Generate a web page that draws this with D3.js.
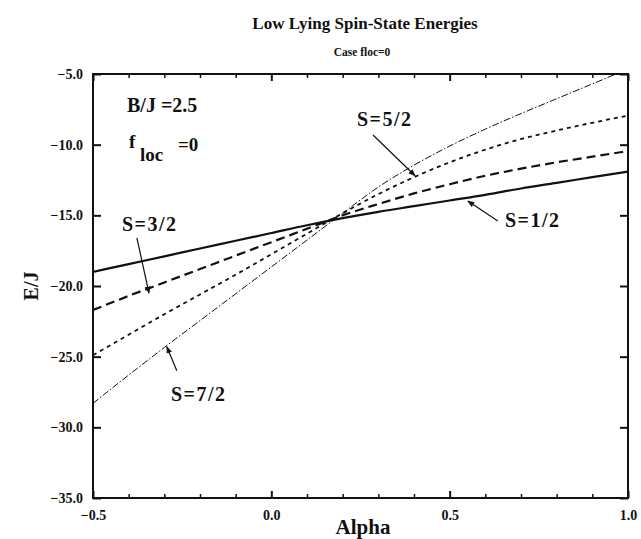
<!DOCTYPE html>
<html><head><meta charset="utf-8">
<script src="https://cdn.jsdelivr.net/npm/d3@7"></script>
<style>body{margin:0;background:#fff}svg{display:block}text{font-family:"Liberation Serif","Times New Roman",serif;font-weight:bold;fill:#111}</style>
</head><body><svg id="c" width="641" height="539"></svg>
<script>
const alpha = [-0.5,-0.4,-0.3,-0.2,-0.1,0.0,0.1,0.2,0.3,0.4,0.5,0.6,0.7,0.8,0.9,1.0];
const eS12 = [-19.0,-18.45,-17.9,-17.35,-16.8,-16.25,-15.7,-15.2,-14.75,-14.35,-13.95,-13.55,-13.1,-12.7,-12.3,-11.9];
const eS32 = [-21.7,-20.7,-19.75,-18.8,-17.85,-16.9,-15.95,-15.0,-14.2,-13.45,-12.8,-12.2,-11.7,-11.25,-10.85,-10.45];
const eS52 = [-24.9,-23.45,-22.0,-20.6,-19.2,-17.75,-16.3,-14.85,-13.5,-12.3,-11.25,-10.35,-9.6,-9.0,-8.45,-7.95];
const eS72 = [-28.3,-26.3,-24.35,-22.45,-20.55,-18.65,-16.75,-14.85,-13.0,-11.45,-10.1,-8.9,-7.8,-6.75,-5.7,-4.65];
const yTicks = [-5,-10,-15,-20,-25,-30,-35];
const xTicks = [-0.5,0.0,0.5,1.0];
const xMinor = [-0.4,-0.3,-0.2,-0.1,0.1,0.2,0.3,0.4,0.6,0.7,0.8,0.9];

const svg = d3.select("#c");
const L=93,R=628,T=74,B=498;
const x = d3.scaleLinear().domain([-0.5,1.0]).range([L,R]);
const y = d3.scaleLinear().domain([-35,-5]).range([B,T]);

const defs = svg.append("defs");
defs.append("clipPath").attr("id","clip").append("rect")
  .attr("x",L).attr("y",T).attr("width",R-L).attr("height",B-T);
defs.append("marker").attr("id","ah").attr("viewBox","0 0 10 10").attr("refX",9).attr("refY",5)
  .attr("markerWidth",6).attr("markerHeight",6).attr("orient","auto")
  .append("path").attr("d","M0,1L10,5L0,9Z").attr("fill","#111");

const series = [
  {e:eS12, dash:null, w:2.2},
  {e:eS32, dash:"9,5", w:2.2},
  {e:eS52, dash:"4,4", w:1.8},
  {e:eS72, dash:"7,2,1.5,2", w:1.0}
];
const line = d3.line().x(d=>x(d[0])).y(d=>y(d[1])).curve(d3.curveMonotoneX);
const g = svg.append("g").attr("clip-path","url(#clip)");
series.forEach(s=>{
  g.append("path").attr("d", line(alpha.map((a,i)=>[a,s.e[i]])))
   .attr("fill","none").attr("stroke","#111").attr("stroke-width",s.w)
   .attr("stroke-dasharray",s.dash);
});

function styleAxis(s, w, fs){
  s.attr("font-size",fs);
  s.select(".domain").remove();
  s.selectAll("line").attr("stroke","#111").attr("stroke-width",w);
  s.selectAll("text").attr("font-size",fs).attr("font-family","Liberation Serif").attr("font-weight","bold").attr("fill","#111");
}
svg.append("g").attr("transform",`translate(${L},0)`)
  .call(d3.axisLeft(y).tickValues(yTicks).tickSize(-8).tickPadding(10).tickFormat(d3.format(".1f")))
  .call(s=>styleAxis(s,2,14));
svg.append("g").attr("transform",`translate(${R},0)`)
  .call(d3.axisRight(y).tickValues(yTicks).tickSize(-8).tickFormat(""))
  .call(s=>styleAxis(s,2,14));
svg.append("g").attr("transform",`translate(0,${B})`)
  .call(d3.axisBottom(x).tickValues(xTicks).tickSize(-7).tickPadding(12).tickFormat(d3.format(".1f")))
  .call(s=>styleAxis(s,2,14));
svg.append("g").attr("transform",`translate(0,${B})`)
  .call(d3.axisBottom(x).tickValues(xMinor).tickSize(-4).tickFormat(""))
  .call(s=>styleAxis(s,1.5,14));
svg.append("g").attr("transform",`translate(0,${T})`)
  .call(d3.axisTop(x).tickValues(xTicks).tickSize(-7).tickFormat(""))
  .call(s=>styleAxis(s,2,14));
svg.append("g").attr("transform",`translate(0,${T})`)
  .call(d3.axisTop(x).tickValues(xMinor).tickSize(-4).tickFormat(""))
  .call(s=>styleAxis(s,1.5,14));
svg.append("rect").attr("x",L).attr("y",T).attr("width",R-L).attr("height",B-T)
  .attr("fill","none").attr("stroke","#111").attr("stroke-width",2);

// titles
svg.append("text").attr("x",365).attr("y",29).attr("text-anchor","middle").attr("font-size",17).text("Low Lying Spin-State Energies");
svg.append("text").attr("x",362).attr("y",56).attr("text-anchor","middle").attr("font-size",11.5).text("Case floc=0");
svg.append("text").attr("transform","translate(38,286) rotate(-90)").attr("text-anchor","middle").attr("font-size",20).text("E/J");
svg.append("text").attr("x",363).attr("y",534).attr("text-anchor","middle").attr("font-size",21).text("Alpha");

// annotations
svg.append("text").attr("x",127).attr("y",112).attr("font-size",20).text("B/J =2.5");
svg.append("text").attr("x",129).attr("y",148).attr("font-size",19).text("f");
svg.append("text").attr("x",140).attr("y",161).attr("font-size",19).text("loc");
svg.append("text").attr("x",178).attr("y",151).attr("font-size",19).text("=0");

const labels = [
  {t:"S=5/2", tx:357, ty:126, a:[0.285,-9.32], b:[0.403,-12.2]},
  {t:"S=1/2", tx:505, ty:227, a:[0.635,-15.4], b:[0.551,-13.99]},
  {t:"S=3/2", tx:122, ty:231, a:[-0.377,-16.6], b:[-0.343,-20.5]},
  {t:"S=7/2", tx:171, ty:401, a:[-0.265,-26.0], b:[-0.293,-24.3]}
];
labels.forEach(l=>{
  svg.append("text").attr("x",l.tx).attr("y",l.ty).attr("font-size",20).attr("letter-spacing",1.5).text(l.t);
  svg.append("line").attr("x1",x(l.a[0])).attr("y1",y(l.a[1])).attr("x2",x(l.b[0])).attr("y2",y(l.b[1]))
    .attr("stroke","#111").attr("stroke-width",1.2).attr("marker-end","url(#ah)");
});
</script></body></html>
